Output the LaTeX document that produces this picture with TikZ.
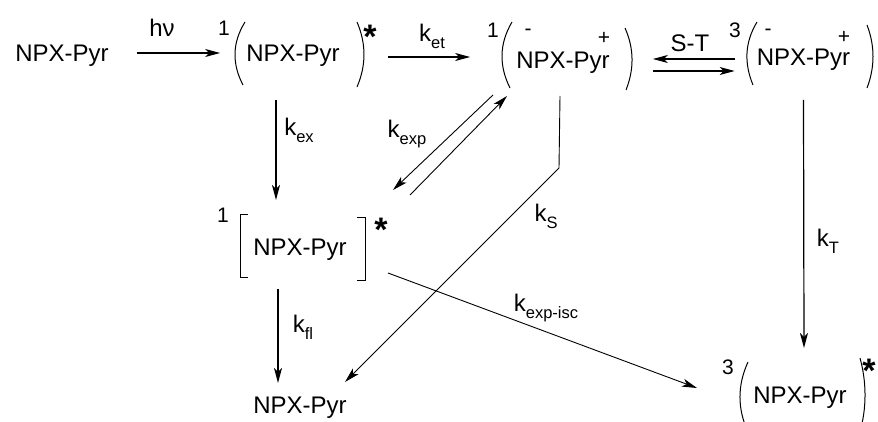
\documentclass[tikz,border=0pt]{standalone}
\usepackage{fontspec}
\setmainfont{Liberation Sans}
\usetikzlibrary{arrows.meta,calc}
\newcommand\ratek[1]{k\raisebox{-0.3em}{\fontsize{16.5}{16.5}\selectfont #1}}
\begin{document}
\begin{tikzpicture}[x=1pt,y=-1pt,
  sp/.style={inner sep=0pt, text height=17pt, text depth=0pt, font=\fontsize{24}{28}\selectfont},
  lab/.style={inner sep=0pt, text height=17pt, text depth=0pt, font=\fontsize{24}{28}\selectfont},
  mult/.style={inner sep=0pt, anchor=base, font=\fontsize{21}{22}\selectfont},
  chg/.style={inner sep=0pt, anchor=base, font=\fontsize{21}{22}\selectfont},
  starsym/.style={inner sep=0pt, anchor=base, font=\fontsize{34}{34}\selectfont\bfseries},
  arr/.style={line width=1.2pt, -{Stealth[length=15pt,width=8pt,inset=4pt]}},
  thinarr/.style={line width=0.9pt, -{Stealth[length=15pt,width=8pt,inset=4pt]}},
  brk/.style={line width=1pt}]
\useasboundingbox (0,0) rectangle (878,422);

% species
\node[sp] (A) at (62,53) {NPX-Pyr};
\node[sp] (B) at (293,53) {NPX-Pyr};
\node[sp] (C) at (563,60) {NPX-Pyr};
\node[sp] (D) at (803.5,57) {NPX-Pyr};
\node[sp] (E) at (300,247) {NPX-Pyr};
\node[sp] (F) at (300,405) {NPX-Pyr};
\node[sp] (G) at (800,395) {NPX-Pyr};

% multiplicities
\node[mult] (mB) at (224,35.5) {1};
\node[mult] (mC) at (493,37.5) {1};
\node[mult] (mD) at (735,37.5) {3};
\node[mult] (mE) at (223,222.5) {1};
\node[mult] (mG) at (728,374.5) {3};

% charges
\node[chg] (qC1) at (528,36) {-};
\node[chg] (qC2) at (604,45) {+};
\node[chg] (qD1) at (768,36) {-};
\node[chg] (qD2) at (844,44) {+};

% stars
\node[starsym] (sB) at (370,49) {*};
\node[starsym] (sE) at (381,241) {*};
\node[starsym] (sG) at (869,382) {*};

% parentheses
\draw[brk] (245,22) .. controls (232,43) and (232,64) .. (243,85);
\draw[brk] (357,22) .. controls (366.3,43.7) and (366.3,65.3) .. (357,87);
\draw[brk] (512,22) .. controls (499,44) and (499,66) .. (510,88);
\draw[brk] (625,28) .. controls (634.2,48.7) and (634.2,69.3) .. (626,90);
\draw[brk] (757,22) .. controls (744.3,43) and (744.3,64) .. (753,85);
\draw[brk] (867,25) .. controls (875,46) and (875,67) .. (867,88);
\draw[brk] (748,362) .. controls (737.3,385.3) and (737.3,408.7) .. (748,432);
\draw[brk] (860,358) .. controls (866.7,382.7) and (866.7,407.3) .. (860,432);
% brackets
\draw[brk] (248,215) -- (240,215) -- (240,277) -- (248,277);
\draw[brk] (357,218) -- (365,218) -- (365,280) -- (357,280);

% labels
\node[lab] (lhv) at (162,28) {hν};
\node[lab] (let) at (432,33) {\ratek{et}};
\node[lab] (lst) at (690,43) {S-T};
\node[lab] (lex) at (299,127) {\ratek{ex}};
\node[lab] (lexp) at (407,129) {\ratek{exp}};
\node[lab] (lS) at (546,213) {\ratek{S}};
\node[lab] (lfl) at (303,324) {\ratek{fl}};
\node[lab] (lisc) at (546,303) {\ratek{exp-isc}};
\node[lab] (lT) at (828,238) {\ratek{T}};

% connectors
\draw[arr] ($(A.east)+(28,0)$) -- ($(B.west)+(-26,0)$);
\draw[arr] ($(B.east)+(48,4)$) -- ($(C.west)+(-46,-3)$);
\draw[arr] ($(D.west)+(-22,2)$) -- ($(C.east)+(43,-1)$);
\draw[arr] ($(C.east)+(43,11)$) -- ($(D.west)+(-22,14)$);
\draw[arr] ($(B.center)+(-17,47)$) -- ($(E.center)+(-24,-47)$);
\draw[arr] ($(E.center)+(-22,42)$) -- ($(F.center)+(-22,-22)$);
\draw[thinarr] ($(C.center)+(-70,35)$) -- ($(E.center)+(93,-57)$);
\draw[thinarr] ($(E.center)+(110,-52)$) -- ($(C.center)+(-56,36)$);
\draw[thinarr] ($(C.center)+(-3,36)$) -- ($(C.center)+(-4,108)$) -- ($(F.center)+(45,-23)$);
\draw[thinarr] ($(E.center)+(88,26)$) -- ($(G.center)+(-103,-7)$);
\draw[arr] ($(D.center)+(0,43)$) -- ($(G.center)+(4,-47)$);
\end{tikzpicture}
\end{document}
